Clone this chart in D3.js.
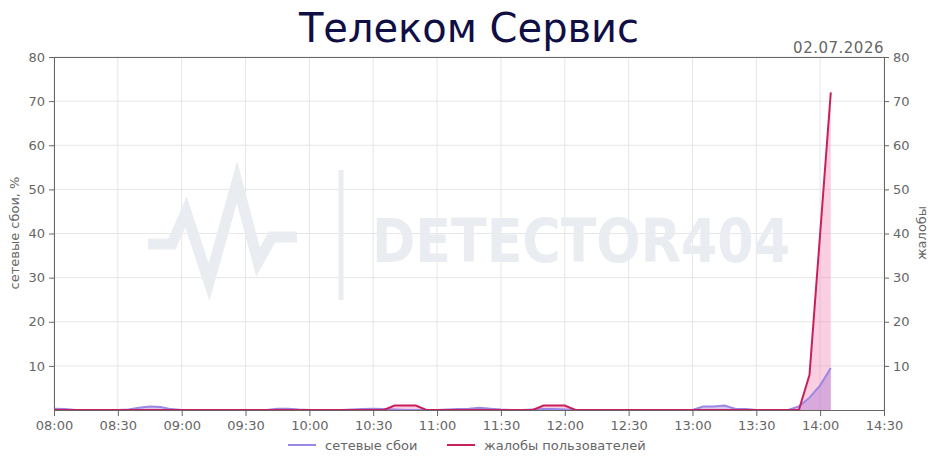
<!DOCTYPE html>
<html><head><meta charset="utf-8">
<script src="https://cdn.jsdelivr.net/npm/d3@7"></script>
<style>body{margin:0;background:#fff;}svg{display:block;font-family:"DejaVu Sans",sans-serif;}</style>
</head><body><svg id="c" width="938" height="468"></svg>
<script>
const title = "Телеком Сервис";
const dateLabel = "02.07.2026";
const times = ["08:00","08:05","08:10","08:15","08:20","08:25","08:30","08:35","08:40","08:45","08:50","08:55",
"09:00","09:05","09:10","09:15","09:20","09:25","09:30","09:35","09:40","09:45","09:50","09:55",
"10:00","10:05","10:10","10:15","10:20","10:25","10:30","10:35","10:40","10:45","10:50","10:55",
"11:00","11:05","11:10","11:15","11:20","11:25","11:30","11:35","11:40","11:45","11:50","11:55",
"12:00","12:05","12:10","12:15","12:20","12:25","12:30","12:35","12:40","12:45","12:50","12:55",
"13:00","13:05","13:10","13:15","13:20","13:25","13:30","13:35","13:40","13:45","13:50","13:55",
"14:00","14:05"];
const failures = [0.3,0.2,0,0,0,0,0,0.1,0.5,0.8,0.7,0.2,
0,0,0,0,0,0,0,0,0,0.3,0.3,0.1,
0,0,0,0,0.1,0.2,0.3,0.2,0.1,0,0,0,
0,0.1,0.2,0.3,0.5,0.3,0.1,0,0,0.1,0.2,0.2,
0.1,0,0,0,0,0,0,0,0,0,0,0,
0,0.8,0.8,1.0,0.3,0.2,0,0,0,0,0.8,2.8,
5.6,9.5];
const complaints = [0,0,0,0,0,0,0,0,0,0,0,0,
0,0,0,0,0,0,0,0,0,0,0,0,
0,0,0,0,0,0,0,0,1,1,1,0,
0,0,0,0,0,0,0,0,0,0,1,1,
1,0,0,0,0,0,0,0,0,0,0,0,
0,0,0,0,0,0,0,0,0,0,0,8,
40,72];
const xTickLabels = ["08:00","08:30","09:00","09:30","10:00","10:30","11:00","11:30","12:00","12:30","13:00","13:30","14:00","14:30"];
const yTicks = [10,20,30,40,50,60,70,80];
const seriesNames = ["сетевые сбои","жалобы пользователей"];
const leftLabel = "сетевые сбои, %";
const rightLabel = "жалобы";

const W=938,H=468, m={l:54,r:884,t:57,b:410};
const svg=d3.select("#c");
const parse=d3.timeParse("%H:%M");
const x=d3.scaleTime().domain([parse("08:00"),parse("14:30")]).range([m.l,m.r]);
const yL=d3.scaleLinear().domain([0,80]).range([m.b,m.t]);
const yR=d3.scaleLinear().domain([0,80]).range([m.b,m.t]);
const grid="#e6e6e6", axc="#666", txt="#666";

// grid
const g=svg.append("g");
g.selectAll("line.v").data(xTickLabels).join("line")
 .attr("x1",d=>x(parse(d))).attr("x2",d=>x(parse(d))).attr("y1",m.t).attr("y2",m.b)
 .attr("stroke",grid).attr("stroke-width",1);
g.selectAll("line.h").data(yTicks).join("line")
 .attr("x1",m.l).attr("x2",m.r).attr("y1",d=>yL(d)).attr("y2",d=>yL(d))
 .attr("stroke",grid).attr("stroke-width",1);

// watermark
const wm=svg.append("g").attr("fill","none").attr("stroke","#e9edf1");
wm.append("polyline").attr("points","148,244 172,244 186,212 209,282 237,182 258,262 272,237 297,237")
 .attr("stroke-width",11).attr("stroke-linejoin","miter");
wm.append("line").attr("x1",341).attr("x2",341).attr("y1",170).attr("y2",300).attr("stroke-width",5);
svg.append("text").attr("x",372).attr("y",262).attr("font-size",60).attr("font-weight","bold")
 .attr("fill","#e9edf1").attr("textLength",418).attr("lengthAdjust","spacingAndGlyphs").text("DETECTOR404");

// data
const pts=times.map((t,i)=>({t:parse(t),f:failures[i],c:complaints[i]}));
const areaC=d3.area().x(d=>x(d.t)).y0(yR(0)).y1(d=>yR(d.c));
const areaF=d3.area().x(d=>x(d.t)).y0(yL(0)).y1(d=>yL(d.f));
const lineC=d3.line().x(d=>x(d.t)).y(d=>yR(d.c));
const lineF=d3.line().x(d=>x(d.t)).y(d=>yL(d.f));
const colF="#9b87e6", colC="#c8205c";
svg.append("path").datum(pts).attr("d",areaC).attr("fill","rgba(242,130,180,0.38)");
svg.append("path").datum(pts).attr("d",areaF).attr("fill","rgba(160,110,210,0.38)");
svg.append("path").datum(pts).attr("d",lineF).attr("fill","none").attr("stroke",colF).attr("stroke-width",2);
svg.append("path").datum(pts).attr("d",lineC).attr("fill","none").attr("stroke",colC).attr("stroke-width",2);

// frame top
svg.append("line").attr("x1",m.l).attr("x2",m.r).attr("y1",m.t+0.5).attr("y2",m.t+0.5).attr("stroke",axc);

// axes
function styleAxis(sel){
 sel.selectAll(".domain").attr("stroke",axc);
 sel.selectAll(".tick line").attr("stroke",axc);
 sel.selectAll(".tick text").attr("fill",txt).attr("font-size",13).attr("font-family","DejaVu Sans");
}
const xa=svg.append("g").attr("transform",`translate(0,${m.b})`)
 .call(d3.axisBottom(x).tickValues(xTickLabels.map(parse)).tickFormat(d3.timeFormat("%H:%M")).tickSize(6).tickSizeOuter(0).tickPadding(5));
styleAxis(xa);
const ya=svg.append("g").attr("transform",`translate(${m.l},0)`)
 .call(d3.axisLeft(yL).tickValues(yTicks).tickSize(5).tickSizeOuter(0).tickPadding(4));
styleAxis(ya);
const yb=svg.append("g").attr("transform",`translate(${m.r},0)`)
 .call(d3.axisRight(yR).tickValues(yTicks).tickSize(5).tickSizeOuter(0).tickPadding(4));
styleAxis(yb);

// titles
svg.append("text").attr("x",469).attr("y",42).attr("text-anchor","middle").attr("font-size",40)
 .attr("fill","#0f0f45").text(title);
svg.append("text").attr("x",884).attr("y",53).attr("text-anchor","end").attr("font-size",15)
 .attr("fill","#666").attr("letter-spacing",0.5).text(dateLabel);
svg.append("text").attr("transform","translate(19,233) rotate(-90)").attr("text-anchor","middle")
 .attr("font-size",13).attr("fill",txt).text(leftLabel);
svg.append("text").attr("transform","translate(926,233) rotate(-90)").attr("text-anchor","middle")
 .attr("font-size",13).attr("fill",txt).text(rightLabel);

// legend
const lg=svg.append("g").attr("font-size",13).attr("fill",txt);
const items=[{n:seriesNames[0],c:colF,x:288},{n:seriesNames[1],c:colC,x:447}];
items.forEach(it=>{
 lg.append("line").attr("x1",it.x).attr("x2",it.x+28).attr("y1",445).attr("y2",445).attr("stroke",it.c).attr("stroke-width",2);
 lg.append("text").attr("x",it.x+37).attr("y",450).attr("fill",txt).text(it.n);
});
</script></body></html>
